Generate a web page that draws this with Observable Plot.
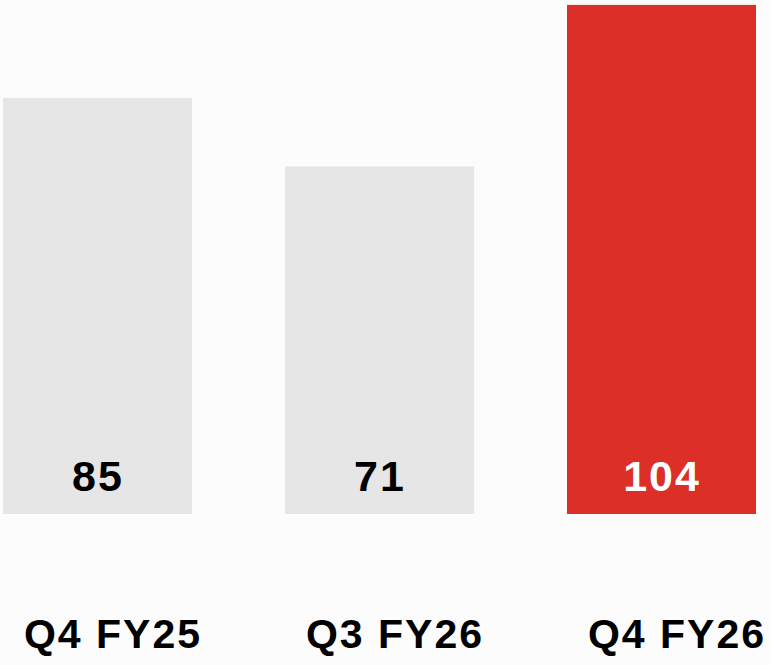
<!DOCTYPE html>
<html>
<head>
<meta charset="utf-8">
<script src="https://cdn.jsdelivr.net/npm/d3@7"></script>
<script src="https://cdn.jsdelivr.net/npm/@observablehq/plot@0.6"></script>
<style>
  html, body { margin: 0; padding: 0; background: #fcfcfc; }
  #chart svg text { letter-spacing: 2px; }
</style>
</head>
<body>
<div id="chart"></div>
<script>
const categories = ["Q4 FY25", "Q3 FY26", "Q4 FY26"];
const values = [85, 71, 104];
const highlight = "Q4 FY26";

const data = categories.map((c, i) => ({category: c, value: values[i]}));
const isHi = d => d.category === highlight;
const notHi = d => d.category !== highlight;

const chart = Plot.plot({
  width: 770,
  height: 665,
  marginTop: 0,
  marginLeft: 2,
  marginRight: 14,
  marginBottom: 151,
  style: {background: "#fcfcfc", fontFamily: "'Liberation Sans', Arial, sans-serif", overflow: "visible"},
  x: {domain: categories, paddingInner: 0.33, paddingOuter: 0, axis: null},
  y: {domain: [0, 105], axis: null},
  marks: [
    Plot.barY(data, {filter: notHi, x: "category", y: "value", fill: "#e6e6e6"}),
    Plot.barY(data, {filter: isHi, x: "category", y: "value", fill: "#dc2f28"}),
    Plot.text(data, {filter: notHi, x: "category", y: 0, text: d => String(d.value), dy: -37, fontSize: 43, fontWeight: "bold", fill: "#000"}),
    Plot.text(data, {filter: isHi, x: "category", y: 0, text: d => String(d.value), dy: -37, fontSize: 43, fontWeight: "bold", fill: "#fff"}),
    Plot.text(data, {x: "category", y: 0, text: "category", dy: 120, dx: 15, fontSize: 41, fontWeight: "bold", fill: "#000"})
  ]
});
document.getElementById("chart").appendChild(chart);
</script>
</body>
</html>
